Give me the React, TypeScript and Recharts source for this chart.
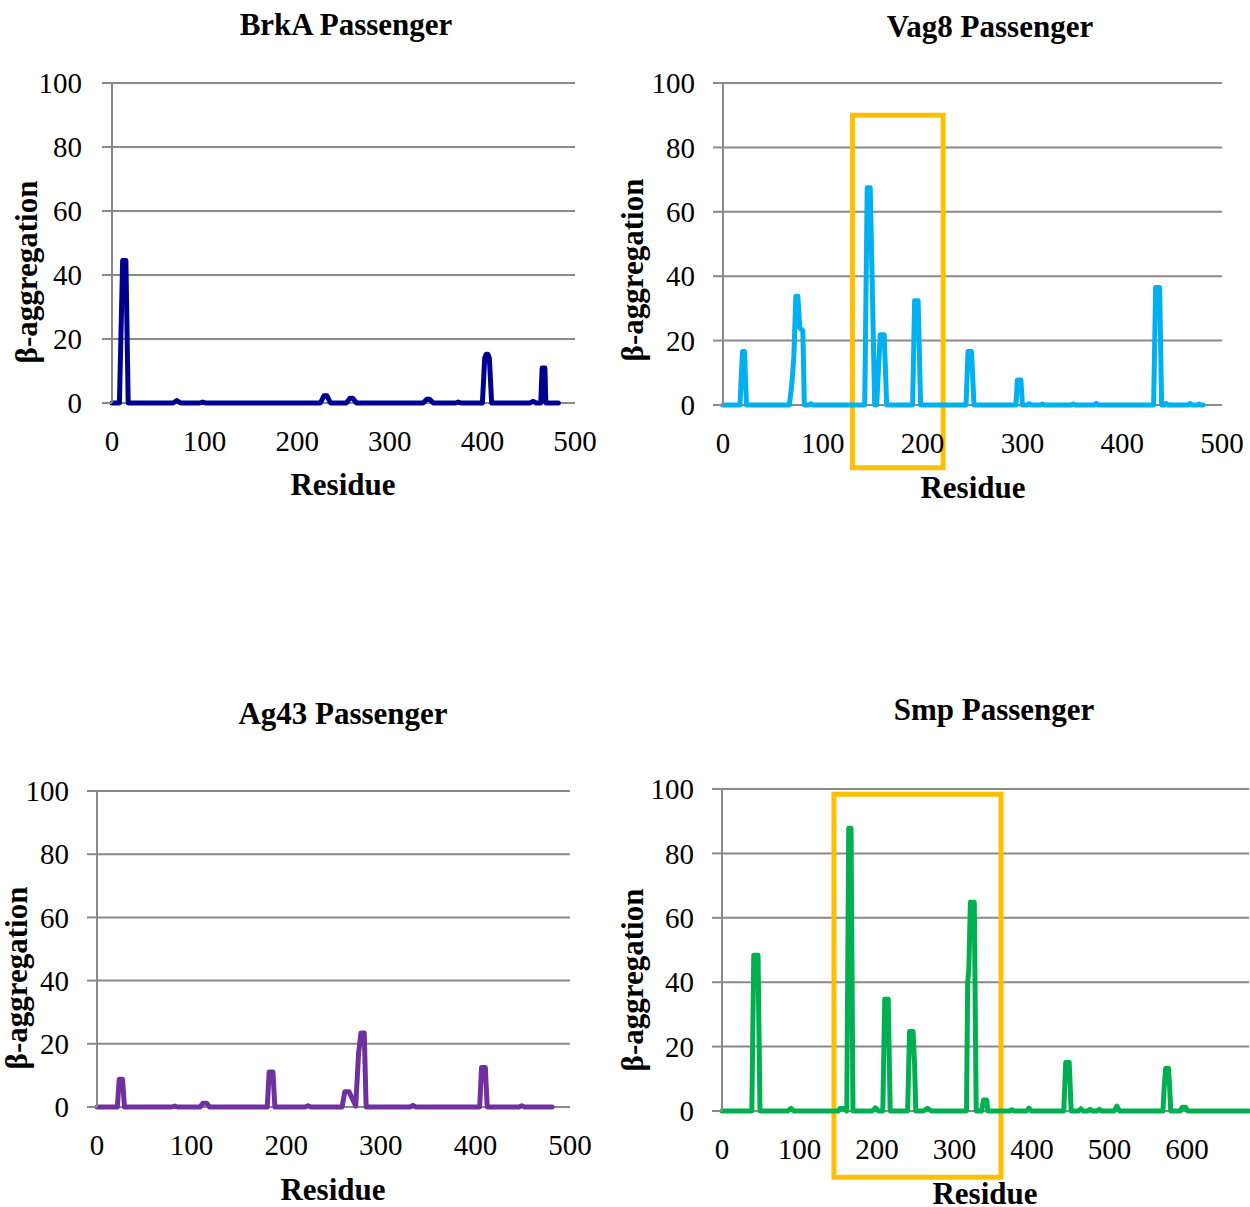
import { CartesianGrid, Line, LineChart, ReferenceArea, XAxis, YAxis } from "recharts";

const yTicks = [0, 20, 40, 60, 80, 100];
const ticks500 = [0, 100, 200, 300, 400, 500];
const ticks600 = [0, 100, 200, 300, 400, 500, 600];

const brkaResidue = [0, 8, 11.5, 15, 17.5, 66, 70, 74, 95, 98, 101, 225, 229, 232, 236, 253, 257, 260, 264, 336, 340, 343, 347, 371, 374, 377, 400, 402.5, 404, 406, 407.5, 410, 451, 455, 458, 463, 464.5, 467.5, 468.5, 482];
const brkaBeta = [0, 0, 44.5, 44.5, 0, 0, 0.8, 0, 0, 0.3, 0, 0, 2.3, 2.3, 0, 0, 1.5, 1.5, 0, 0, 1.2, 1.2, 0, 0, 0.3, 0, 0, 14, 15.2, 15.2, 14, 0, 0, 0.5, 0, 0, 10.9, 10.9, 0, 0];

const vag8Residue = [0, 17, 19.5, 21.5, 23.5, 66.5, 69, 71, 73, 75, 77, 80, 81.5, 86, 88, 90, 142, 144.5, 147.5, 152, 154, 157.5, 161.5, 164, 190, 192, 195.5, 198, 243.5, 245.5, 249, 251.5, 293.5, 295, 298.5, 300, 305, 307, 309, 318, 320, 322, 349, 351, 353, 372, 374, 376, 431.5, 433.5, 437.5, 439.5, 442, 444, 446, 466, 468, 470, 475, 477, 479, 481];
const vag8Beta = [0, 0, 16.6, 16.6, 0, 0, 6.5, 15, 33.8, 33.8, 24, 23, 0, 0, 0.4, 0, 0, 67.5, 67.5, 0, 0, 21.8, 21.8, 0, 0, 32.4, 32.4, 0, 0, 16.6, 16.6, 0, 0, 7.8, 7.8, 0, 0, 0.4, 0, 0, 0.3, 0, 0, 0.3, 0, 0, 0.5, 0, 0, 36.5, 36.5, 0, 0, 0.5, 0, 0, 0.5, 0, 0, 0.3, 0, 0];

const ag43Residue = [0, 21.5, 23.5, 27, 29, 79, 82, 85, 109, 112, 116, 119, 180, 182, 186, 188, 220, 223, 226, 259, 262, 266.5, 273.5, 276.5, 279, 282.5, 284.5, 331, 334, 337, 446, 449, 452, 404.5, 406.5, 410.5, 412.5, 481];
const ag43Beta = [0, 0, 8.8, 8.8, 0, 0, 0.3, 0, 0, 1.2, 1.2, 0, 0, 11.1, 11.1, 0, 0, 0.4, 0, 0, 4.8, 4.8, 0.3, 17, 23.4, 23.4, 0, 0, 0.5, 0, 0, 0.4, 0, 0, 12.5, 12.5, 0, 0];

const smpResidue = [0, 38.5, 41, 46.5, 49, 85, 89, 93, 150, 152, 157, 161, 163.5, 166.5, 169, 194, 198, 202, 207.5, 210, 214.5, 217, 239.5, 242, 246.5, 248.5, 250, 260, 265, 270, 315.5, 317, 318.5, 320.5, 325.5, 328, 335, 337.5, 341.5, 343, 371, 374, 377, 393, 396, 399, 441, 443.5, 448, 450.5, 460, 463, 466, 472, 475, 478, 484, 487, 490, 506, 509.5, 513, 569, 570.5, 572.5, 576, 577.5, 579, 591, 594, 598, 601, 680];
const smpBeta = [0, 0, 48.4, 48.4, 0, 0, 0.8, 0, 0, 0.8, 0.8, 0, 87.8, 87.8, 0, 0, 1, 0, 0, 34.7, 34.7, 0, 0, 24.7, 24.7, 14.5, 0, 0, 0.8, 0, 0, 40, 44, 64.8, 64.8, 0, 0, 3.4, 3.4, 0, 0, 0.4, 0, 0, 0.9, 0, 0, 15.1, 15.1, 0, 0, 0.7, 0, 0, 0.5, 0, 0, 0.5, 0, 0, 1.5, 0, 0, 7, 13.3, 13.3, 8, 0, 0, 1.2, 1.2, 0, 0];

const toRows = (residue: number[], beta: number[]) =>
  residue.map((r, i) => ({ residue: r, beta: beta[i] })).sort((a, b) => a.residue - b.residue);

const FONT = '"Liberation Serif", "Times New Roman", serif';
const GRID = "#898989";
const YELLOW = "#FFC000";

interface PanelProps {
  rows: { residue: number; beta: number }[];
  color: string;
  xMax: number;
  xTicks: number[];
  box: { left: number; top: number; width: number; height: number };
  plot: { left: number; right: number; top: number; bottom: number };
  yTickMargin: number;
  highlight?: { x1: number; x2: number; y1: number; y2: number };
}

function Panel({ rows, color, xMax, xTicks, box, plot, yTickMargin, highlight }: PanelProps) {
  const tick = { fill: "#000", fontSize: 29, fontFamily: FONT };
  return (
    <div style={{ position: "absolute", left: box.left, top: box.top }}>
      <LineChart
        width={box.width}
        height={box.height}
        data={rows}
        margin={{ top: plot.top - box.top, right: box.left + box.width - plot.right, bottom: 0, left: 0 }}
      >
        {/* the 0 grid line doubles as the x axis, so the series is drawn over it */}
        <CartesianGrid vertical={false} stroke={GRID} strokeWidth={2} />
        <XAxis
          type="number"
          dataKey="residue"
          domain={[0, xMax]}
          ticks={xTicks}
          interval={0}
          height={box.top + box.height - plot.bottom}
          tickLine={false}
          tickSize={0}
          tickMargin={27}
          axisLine={false}
          tick={tick}
        />
        <YAxis
          type="number"
          domain={[0, 100]}
          ticks={yTicks}
          interval={0}
          width={plot.left - box.left}
          tickSize={10}
          tickMargin={yTickMargin}
          tickLine={{ stroke: GRID, strokeWidth: 2 }}
          axisLine={{ stroke: GRID, strokeWidth: 2 }}
          tick={tick}
        />
        <Line
          type="linear"
          dataKey="beta"
          stroke={color}
          strokeWidth={5}
          strokeLinejoin="round"
          strokeLinecap="round"
          dot={false}
          activeDot={false}
          isAnimationActive={false}
        />
        {highlight && (
          <ReferenceArea
            x1={highlight.x1}
            x2={highlight.x2}
            y1={highlight.y1}
            y2={highlight.y2}
            ifOverflow="visible"
            fill="none"
            fillOpacity={0}
            stroke={YELLOW}
            strokeWidth={5}
          />
        )}
      </LineChart>
    </div>
  );
}

const titles = [
  { text: "BrkA Passenger", x: 346, y: 35 },
  { text: "Vag8 Passenger", x: 990, y: 37 },
  { text: "Ag43 Passenger", x: 343, y: 724 },
  { text: "Smp Passenger", x: 994, y: 720 },
];
const xLabels = [
  { x: 343, y: 495 },
  { x: 973, y: 498 },
  { x: 333, y: 1200 },
  { x: 985, y: 1204 },
];
const yLabels = [
  { x: 37, y: 272 },
  { x: 643, y: 270 },
  { x: 27, y: 978 },
  { x: 643, y: 980 },
];

export default function App() {
  return (
    <div style={{ position: "absolute", left: 0, top: 0, width: 1250, height: 1207, overflow: "hidden", background: "#fff" }}>
      <Panel
        rows={toRows(brkaResidue, brkaBeta)}
        color="#000090"
        xMax={500}
        xTicks={ticks500}
        box={{ left: 0, top: 50, width: 625, height: 470 }}
        plot={{ left: 112, right: 575, top: 83, bottom: 403 }}
        yTickMargin={20}
      />
      <Panel
        rows={toRows(vag8Residue, vag8Beta)}
        color="#00B0F0"
        xMax={500}
        xTicks={ticks500}
        box={{ left: 625, top: 50, width: 625, height: 470 }}
        plot={{ left: 723, right: 1222, top: 83, bottom: 405 }}
        yTickMargin={18}
        highlight={{ x1: 129.7, x2: 220.6, y1: -19.5, y2: 90 }}
      />
      <Panel
        rows={toRows(ag43Residue, ag43Beta)}
        color="#7030A0"
        xMax={500}
        xTicks={ticks500}
        box={{ left: 0, top: 760, width: 625, height: 447 }}
        plot={{ left: 97, right: 570, top: 791, bottom: 1107 }}
        yTickMargin={18}
      />
      <Panel
        rows={toRows(smpResidue, smpBeta)}
        color="#00B050"
        xMax={680}
        xTicks={ticks600}
        box={{ left: 625, top: 760, width: 625, height: 447 }}
        plot={{ left: 722, right: 1249, top: 789, bottom: 1111 }}
        yTickMargin={18}
        highlight={{ x1: 144.5, x2: 360, y1: -20.6, y2: 98.4 }}
      />
      <svg width={1250} height={1207} style={{ position: "absolute", left: 0, top: 0, pointerEvents: "none" }}>
        <g fontFamily={FONT} fontWeight="bold" fontSize={31} fill="#000">
          {titles.map((t) => (
            <text key={t.text} x={t.x} y={t.y} textAnchor="middle">
              {t.text}
            </text>
          ))}
          {xLabels.map((p, i) => (
            <text key={`x${i}`} x={p.x} y={p.y} textAnchor="middle">
              Residue
            </text>
          ))}
          {yLabels.map((p, i) => (
            <text key={`y${i}`} x={p.x} y={p.y} textAnchor="middle" transform={`rotate(-90 ${p.x} ${p.y})`}>
              β-aggregation
            </text>
          ))}
        </g>
      </svg>
    </div>
  );
}
